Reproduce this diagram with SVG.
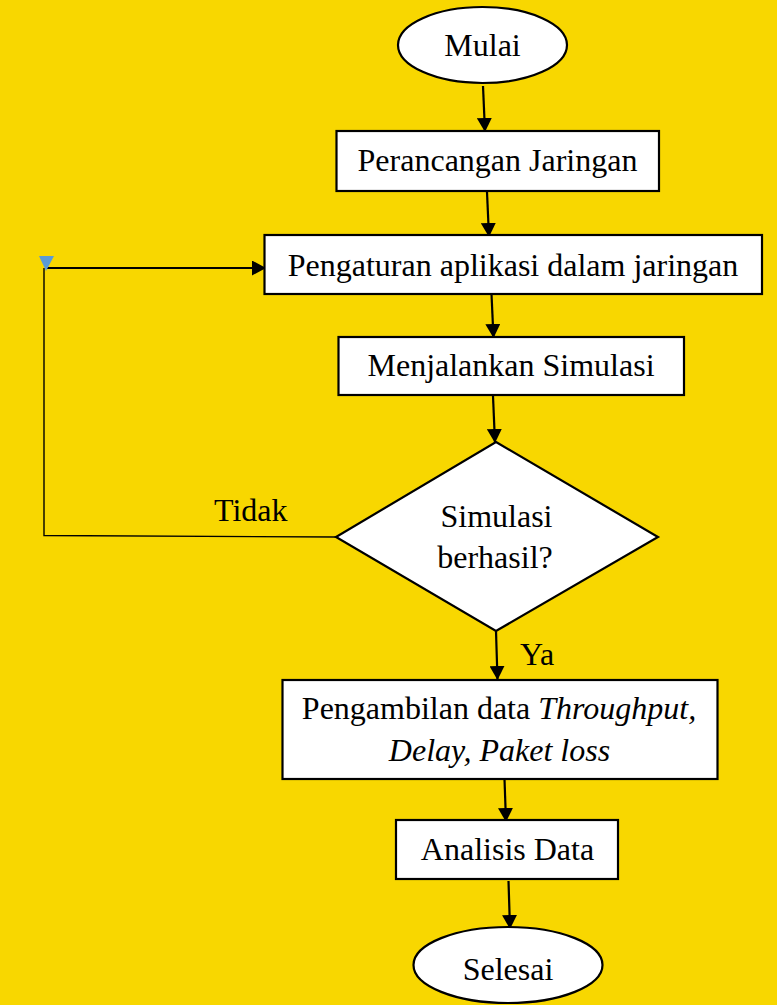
<svg xmlns="http://www.w3.org/2000/svg" width="777" height="1005" viewBox="0 0 777 1005">
<style>
.shape{fill:#fff;stroke:#000;stroke-width:2.2}
.lbl{font-family:"Liberation Serif","Times New Roman",serif;font-size:32px;fill:#000;text-anchor:middle}
.plain{font-family:"Liberation Serif","Times New Roman",serif;font-size:32px;fill:#000}
.edge{fill:none;stroke:#000;stroke-width:2.2}
.thin{fill:none;stroke:#000;stroke-width:1.4}
</style>
<defs>
<marker id="ah" markerUnits="userSpaceOnUse" markerWidth="15" markerHeight="15" refX="14" refY="7.5" orient="auto">
<path d="M0,0 L14,7.5 L0,15 z" fill="#000"/>
</marker>
</defs>
<rect x="0" y="0" width="777" height="1005" fill="#F8D700"/>
<g id="connectors">
<line class="edge" x1="483" y1="86" x2="485" y2="132" marker-end="url(#ah)"/>
<line class="edge" x1="487" y1="192" x2="489" y2="237" marker-end="url(#ah)"/>
<line class="edge" x1="491.5" y1="294" x2="493.5" y2="338" marker-end="url(#ah)"/>
<line class="edge" x1="493" y1="396" x2="495" y2="443" marker-end="url(#ah)"/>
<line class="edge" x1="496" y1="631" x2="497.5" y2="680" marker-end="url(#ah)"/>
<line class="edge" x1="504.5" y1="779" x2="506" y2="822" marker-end="url(#ah)"/>
<line class="edge" x1="508.5" y1="881" x2="510" y2="929" marker-end="url(#ah)"/>
<polyline class="thin" points="336,537 44,535.5 44,268"/>
<line class="edge" x1="45" y1="268" x2="266" y2="268" marker-end="url(#ah)"/>
<polygon points="39,256 54,256 46,271" fill="#5B9BD5"/>
<text class="plain" x="214" y="521">Tidak</text>
<text class="plain" x="520" y="665">Ya</text>
</g>
<g id="mulai">
<ellipse class="shape" cx="482.5" cy="45" rx="84.5" ry="38"/>
<text class="lbl" x="482.5" y="56">Mulai</text>
</g>
<g id="perancangan">
<rect class="shape" x="336.5" y="131" width="322.5" height="60"/>
<text class="lbl" x="497.5" y="171">Perancangan Jaringan</text>
</g>
<g id="pengaturan">
<rect class="shape" x="264.5" y="235" width="497.5" height="59"/>
<text class="lbl" x="513" y="275.5">Pengaturan aplikasi dalam jaringan</text>
</g>
<g id="menjalankan">
<rect class="shape" x="338.5" y="337" width="345.5" height="58"/>
<text class="lbl" x="511" y="376">Menjalankan Simulasi</text>
</g>
<g id="keputusan">
<polygon class="shape" points="496,442 658,537 496,631 336,537"/>
<text class="lbl" x="496.5" y="527">Simulasi</text>
<text class="lbl" x="495" y="568">berhasil?</text>
</g>
<g id="pengambilan">
<rect class="shape" x="282.5" y="680" width="435" height="99"/>
<text class="lbl" x="499" y="718.5">Pengambilan data <tspan font-style="italic">Throughput,</tspan></text>
<text class="lbl" x="499.5" y="761" font-style="italic">Delay, Paket loss</text>
</g>
<g id="analisis">
<rect class="shape" x="396" y="820" width="222" height="59"/>
<text class="lbl" x="507.5" y="859.5">Analisis Data</text>
</g>
<g id="selesai">
<ellipse class="shape" cx="508" cy="965" rx="94.5" ry="38"/>
<text class="lbl" x="508" y="979.5">Selesai</text>
</g>
</svg>
